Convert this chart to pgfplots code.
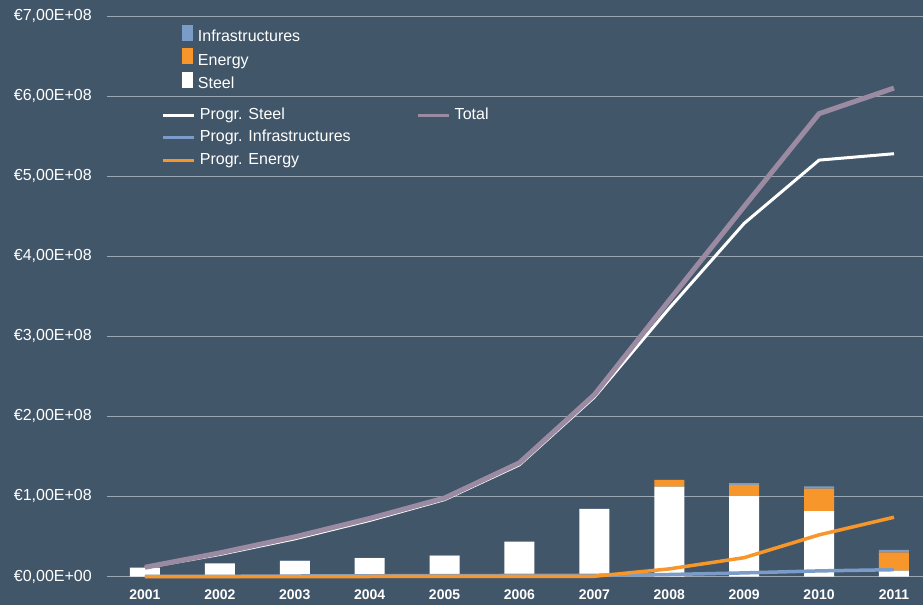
\documentclass[border=0pt]{standalone}
\usepackage{pgfplots}
\pgfplotsset{compat=1.18}
\usepackage{fontspec}
\setmainfont{Liberation Sans}
\definecolor{bg}{HTML}{425669}
\definecolor{gridc}{HTML}{9AA6B2}
\definecolor{orng}{HTML}{F7962B}
\definecolor{blu}{HTML}{7B9CC8}
\definecolor{mauve}{HTML}{9A8AA2}

\pgfplotstableread{
x steel energy infra
0 11.0e6 0 0
1 16.5e6 0 0
2 19.4e6 0 0.3e6
3 23.1e6 0 0.2e6
4 26.0e6 0.3e6 0
5 43.5e6 0 0
6 84.4e6 0 0
7 112.3e6 8.4e6 0
8 100.3e6 14.1e6 2.1e6
9 81.5e6 28.2e6 3.0e6
10 7.2e6 23.0e6 2.9e6
}\bars

\pgfplotstableread{
x psteel pinfra penergy total
0 11.0e6 0 0 11.5e6
1 27.5e6 0.2e6 0 29.5e6
2 47.0e6 0.6e6 0 49.5e6
3 70.0e6 0.9e6 0 72.5e6
4 96.0e6 1.1e6 0.3e6 98.0e6
5 139.5e6 1.3e6 0.3e6 142.0e6
6 224.0e6 1.5e6 0.3e6 227.0e6
7 335.0e6 2.5e6 9.5e6 345.0e6
8 441.0e6 4.5e6 23.5e6 462.0e6
9 520.0e6 7.0e6 52.0e6 578.0e6
10 528.0e6 8.5e6 74.0e6 610.0e6
}\lines

\pgfplotsset{
  common/.style={
    at={(0pt,0pt)}, anchor=south west,
    scale only axis, width=823.9pt, height=560.5pt,
    xmin=-0.5, xmax=10.5, ymin=0, ymax=7e8,
    axis line style={draw=none},
    major tick length=0pt,
    clip=false,
    legend cell align=left,
  },
}

\begin{document}
\begin{tikzpicture}
\fill[bg] (-107.5pt,-28.5pt) rectangle (815.5pt,576.5pt);

\begin{axis}[common,
  ybar stacked, bar width=30pt,
  ymajorgrids, major grid style={gridc, line width=1pt},
  ytick={0,1e8,2e8,3e8,4e8,5e8,6e8,7e8},
  yticklabels={{€0,00E+00},{€1,00E+08},{€2,00E+08},{€3,00E+08},{€4,00E+08},{€5,00E+08},{€6,00E+08},{€7,00E+08}},
  yticklabel style={anchor=east, inner sep=0pt, xshift=-15.5pt, text=white, font=\fontsize{16}{18}\selectfont},
  extra y ticks={0}, extra y tick labels={},
  extra y tick style={grid style={white, line width=1.3pt}},
  xtick={0,...,10},
  xticklabels={2001,2002,2003,2004,2005,2006,2007,2008,2009,2010,2011},
  xticklabel style={anchor=base, inner sep=0pt, yshift=-22.8pt, text=white, font=\fontsize{14}{16}\selectfont\bfseries},
  reverse legend,
  legend image code/.code={\fill[#1] (0pt,-3pt) rectangle (11pt,13pt);},
  legend style={at={(0.0904,0.984)}, anchor=north west, draw=none, fill=none,
    text=white, font=\fontsize{16}{18}\selectfont, inner sep=0pt, outer sep=0pt,
    row sep=3pt,
    nodes={inner sep=0pt, text height=11.5pt, text depth=3.5pt},
    /tikz/every odd column/.append style={column sep=5pt}},
]
\addplot[fill=white, draw=none] table[x=x, y=steel] {\bars};
\addlegendentry{Steel}
\addplot[fill=orng, draw=none] table[x=x, y=energy] {\bars};
\addlegendentry{Energy}
\addplot[fill=blu, draw=none] table[x=x, y=infra] {\bars};
\addlegendentry{Infrastructures}
\end{axis}

\begin{axis}[common,
  hide axis,
  legend columns=2,
  legend image code/.code={\draw[#1] (0pt,0pt) -- (31pt,0pt);},
  legend style={at={(0.066,0.8359)}, anchor=north west, draw=none, fill=none,
    text=white, font=\fontsize{16}{18}\selectfont, inner sep=0pt, outer sep=0pt,
    row sep=7.5pt,
    nodes={inner sep=0pt, text height=11.5pt, text depth=3.5pt},
    /tikz/every odd column/.append style={column sep=4pt},
    /tikz/column 2/.append style={column sep=66pt}},
]
\addplot[white, line width=3pt, forget plot] table[x=x, y=psteel] {\lines};
\addplot[blu, line width=3.5pt, forget plot] table[x=x, y=pinfra] {\lines};
\addplot[orng, line width=3.5pt, forget plot] table[x=x, y=penergy] {\lines};
\addplot[mauve, line width=5pt, forget plot] table[x=x, y=total] {\lines};
\addlegendimage{white, line width=3pt}
\addlegendentry{Progr. Steel}
\addlegendimage{mauve, line width=3pt}
\addlegendentry{Total}
\addlegendimage{blu, line width=3pt}
\addlegendentry{Progr. Infrastructures}
\addlegendimage{empty legend}
\addlegendentry{}
\addlegendimage{orng, line width=3pt}
\addlegendentry{Progr. Energy}
\end{axis}

\pgfresetboundingbox
\path[use as bounding box] (-107.5pt,-28.5pt) rectangle (815.5pt,576.5pt);
\end{tikzpicture}
\end{document}
